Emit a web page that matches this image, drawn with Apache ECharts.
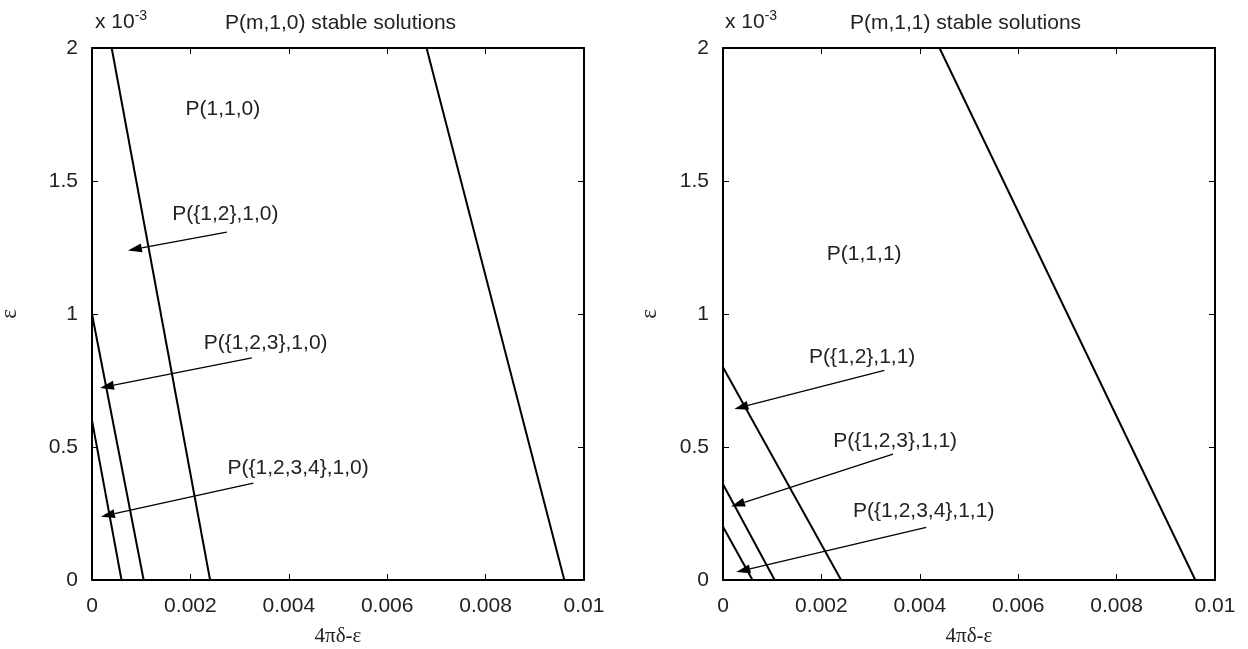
<!DOCTYPE html>
<html>
<head>
<meta charset="utf-8">
<script src="https://cdn.jsdelivr.net/npm/echarts@6/dist/echarts.min.js"></script>
<style>
  html, body { margin: 0; padding: 0; background: #fff; }
  #chart { width: 1248px; height: 649px; }
</style>
</head>
<body>
<div id="chart"></div>
<script>
// y values are in units of 1e-3 (axis shows "x 10^-3")
const xTicks = [0, 0.002, 0.004, 0.006, 0.008, 0.01];
const yTicks = [0, 0.5, 1, 1.5, 2];

const leftLines = [
  [[0.0004, 2], [0.0024, 0]],
  [[0.0068, 2], [0.0096, 0]],
  [[0, 1.0], [0.00105, 0]],
  [[0, 0.6], [0.0006, 0]]
];
const rightLines = [
  [[0.0044, 2], [0.0096, 0]],
  [[0, 0.8], [0.0024, 0]],
  [[0, 0.36], [0.00105, 0]],
  [[0, 0.2], [0.0006, 0]]
];

// [tailX, tailY, tipX, tipY]
const leftArrows = [
  [0.00274, 1.308, 0.00073, 1.239],
  [0.00325, 0.835, 0.000163, 0.722],
  [0.00328, 0.364, 0.00018, 0.238]
];
const rightArrows = [
  [0.00328, 0.788, 0.00023, 0.643],
  [0.003455, 0.473, 0.000163, 0.276],
  [0.00413, 0.198, 0.00027, 0.03]
];

const leftLabels = [
  ['P(1,1,0)', 0.00266, 1.77],
  ['P({1,2},1,0)', 0.00271, 1.375],
  ['P({1,2,3},1,0)', 0.00353, 0.891],
  ['P({1,2,3,4},1,0)', 0.00419, 0.42]
];
const rightLabels = [
  ['P(1,1,1)', 0.00287, 1.224],
  ['P({1,2},1,1)', 0.00283, 0.837],
  ['P({1,2,3},1,1)', 0.0035, 0.521],
  ['P({1,2,3,4},1,1)', 0.00408, 0.257]
];

const titles = ['P(m,1,0) stable solutions', 'P(m,1,1) stable solutions'];

const SANS = '"Liberation Sans", Arial, sans-serif';
const SERIF = '"Liberation Serif", "Times New Roman", serif';
const TXT = '#222';
const FS = 21;

const chart = echarts.init(document.getElementById('chart'));

const grids = [
  { left: 92, right: 664, top: 48, bottom: 69, outerBoundsMode: 'none', containLabel: false },
  { left: 723, right: 33, top: 48, bottom: 69, outerBoundsMode: 'none', containLabel: false }
];
const yNameGaps = [71, 62];

const axisLine = { show: true, onZero: false, lineStyle: { color: '#000', width: 2 } };
const axisTick = { show: true, inside: true, length: 6, lineStyle: { color: '#000', width: 1 } };

const xAxes = [];
const yAxes = [];
grids.forEach((g, i) => {
  const xBase = {
    gridIndex: i, type: 'value',
    min: xTicks[0], max: xTicks[xTicks.length - 1], interval: xTicks[1] - xTicks[0],
    splitLine: { show: false }, axisLine, axisTick
  };
  xAxes.push(Object.assign({}, xBase, {
    position: 'bottom',
    name: '4πδ-ε', nameLocation: 'middle', nameGap: 46,
    nameTextStyle: { fontFamily: SERIF, fontSize: FS, color: TXT },
    axisLabel: { fontFamily: SANS, fontSize: FS, color: TXT, margin: 16 }
  }));
  xAxes.push(Object.assign({}, xBase, { position: 'top', axisLabel: { show: false } }));
  const yBase = {
    gridIndex: i, type: 'value',
    min: yTicks[0], max: yTicks[yTicks.length - 1], interval: yTicks[1] - yTicks[0],
    splitLine: { show: false }, axisLine, axisTick
  };
  yAxes.push(Object.assign({}, yBase, {
    position: 'left',
    name: 'ε', nameLocation: 'middle', nameGap: yNameGaps[i],
    nameTextStyle: { fontFamily: SERIF, fontSize: FS + 2, color: TXT },
    axisLabel: { fontFamily: SANS, fontSize: FS, color: TXT, margin: 14 }
  }));
  yAxes.push(Object.assign({}, yBase, { position: 'right', axisLabel: { show: false } }));
});

const series = [];
function addPanel(i, lines, arrows, labels) {
  const xi = i * 2, yi = i * 2;
  lines.forEach(l => {
    series.push({
      type: 'line', xAxisIndex: xi, yAxisIndex: yi, data: l,
      showSymbol: false, symbol: 'none', silent: true, animation: false,
      lineStyle: { color: '#000', width: 2 }
    });
  });
  series.push({
    type: 'custom', xAxisIndex: xi, yAxisIndex: yi, animation: false, silent: true,
    data: arrows,
    encode: { x: [0, 2], y: [1, 3] },
    renderItem: (params, api) => {
      const p1 = api.coord([api.value(0), api.value(1)]);
      const p2 = api.coord([api.value(2), api.value(3)]);
      const dx = p2[0] - p1[0], dy = p2[1] - p1[1];
      const len = Math.sqrt(dx * dx + dy * dy);
      const ux = dx / len, uy = dy / len;
      const hl = 14, hw = 4.5;
      const bx = p2[0] - ux * hl, by = p2[1] - uy * hl;
      return {
        type: 'group',
        children: [
          { type: 'line', shape: { x1: p1[0], y1: p1[1], x2: bx, y2: by },
            style: { stroke: '#000', lineWidth: 1.3 } },
          { type: 'polygon',
            shape: { points: [p2, [bx - uy * hw, by + ux * hw], [bx + uy * hw, by - ux * hw]] },
            style: { fill: '#000' } }
        ]
      };
    }
  });
  series.push({
    type: 'custom', xAxisIndex: xi, yAxisIndex: yi, animation: false, silent: true,
    data: labels.map(l => [l[1], l[2]]),
    encode: { x: 0, y: 1 },
    renderItem: (params, api) => {
      const p = api.coord([api.value(0), api.value(1)]);
      return {
        type: 'text', x: p[0], y: p[1],
        style: {
          text: labels[params.dataIndex][0],
          fontFamily: SANS, fontSize: FS, fill: TXT,
          align: 'center', verticalAlign: 'middle'
        }
      };
    }
  });
}
addPanel(0, leftLines, leftArrows, leftLabels);
addPanel(1, rightLines, rightArrows, rightLabels);

const scaleText = {
  text: '{a|x 10}{b|-3}',
  textStyle: {
    fontWeight: 'normal',
    rich: {
      a: { fontFamily: SANS, fontSize: FS, fontWeight: 'normal', color: TXT },
      b: { fontFamily: SANS, fontSize: 14, fontWeight: 'normal', color: TXT, padding: [0, 0, 12, 0] }
    }
  }
};

chart.setOption({
  backgroundColor: '#fff',
  animation: false,
  title: [
    Object.assign({ left: 90, top: 4 }, scaleText),
    Object.assign({ left: 720, top: 4 }, scaleText),
    { text: titles[0], left: 220, top: 8,
      textStyle: { fontFamily: SANS, fontSize: FS, fontWeight: 'normal', color: TXT } },
    { text: titles[1], left: 845, top: 8,
      textStyle: { fontFamily: SANS, fontSize: FS, fontWeight: 'normal', color: TXT } }
  ],
  grid: grids,
  xAxis: xAxes,
  yAxis: yAxes,
  series
});
</script>
</body>
</html>
